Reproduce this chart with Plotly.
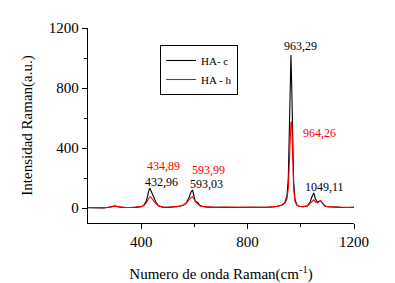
import plotly.graph_objects as go

wavenumber = [200, 220, 240, 260, 280, 300, 310, 320, 340, 360, 380, 400, 410, 420, 425, 430, 433, 437, 442, 448,
              455, 465, 480, 500, 520, 540, 560, 570, 580, 587, 593, 598, 603, 608, 613, 620, 630, 650, 680, 720,
              760, 800, 840, 880, 910, 930, 940, 948, 953, 957, 960, 963, 966, 969, 973, 978, 985, 995, 1010, 1025,
              1035, 1042, 1049, 1055, 1062, 1068, 1075, 1082, 1090, 1100, 1120, 1150, 1180, 1200]

ha_c = [2, 0, 3, 1, 5, 14, 10, 5, 3, 2, 4, 8, 18, 50, 90, 125, 130, 115, 85, 70,
        40, 15, 6, 4, 6, 10, 20, 35, 70, 105, 120, 80, 45, 42, 35, 18, 10, 6, 4, 5,
        3, 4, 3, 5, 10, 20, 35, 80, 200, 500, 850, 1020, 800, 450, 180, 60, 20, 10, 8, 15,
        40, 75, 100, 60, 40, 45, 48, 30, 15, 8, 5, 4, 3, 4]

ha_h = [3, 1, 4, 2, 6, 12, 9, 6, 4, 3, 5, 9, 16, 35, 55, 70, 75, 70, 58, 48,
        30, 14, 7, 5, 7, 11, 20, 32, 55, 70, 75, 60, 38, 32, 26, 15, 10, 7, 5, 6,
        4, 5, 4, 6, 11, 20, 32, 60, 130, 300, 480, 570, 575, 320, 130, 45, 18, 10, 9, 14,
        30, 45, 55, 42, 35, 42, 46, 30, 15, 9, 6, 5, 4, 5]

series_names = ["HA- c", "HA - h"]
series_colors = ["black", "red"]

peak_labels = ["963,29", "964,26", "434,89", "432,96", "593,99", "593,03", "1049,11"]
peak_label_x = [998, 1069, 483, 475, 653, 645, 1090]
peak_label_y = [1080, 500, 280, 173, 256, 162, 140]
peak_label_colors = ["black", "red", "red", "black", "red", "black", "black"]

font_family = "Liberation Serif"

fig = go.Figure()
for name, ys, col in zip(series_names, [ha_c, ha_h], series_colors):
    fig.add_trace(go.Scatter(x=wavenumber, y=ys, mode="lines", name=name,
                             line=dict(color=col, width=1.1)))

for t, x, y, c in zip(peak_labels, peak_label_x, peak_label_y, peak_label_colors):
    fig.add_annotation(x=x, y=y, text=t, showarrow=False, xref="x", yref="y",
                       font=dict(family=font_family, size=12, color=c))

axis_common = dict(showline=True, linecolor="black", linewidth=1.3, ticks="outside",
                   ticklen=5, tickwidth=1.3, tickcolor="black", showgrid=False, zeroline=False,
                   automargin=False,
                   tickfont=dict(family=font_family, size=15, color="black"),
                   minor=dict(ticks="outside", ticklen=3, tickwidth=1.3, tickcolor="black"))

fig.update_xaxes(range=[200, 1200], tickvals=[400, 800, 1200], **axis_common,
                 title=dict(text="Numero de onda Raman(cm<sup>-1</sup>)",
                            font=dict(family=font_family, size=15, color="black"), standoff=20))
fig.update_xaxes(minor_tickvals=[600, 1000])
fig.update_yaxes(range=[-100, 1200], tickvals=[0, 400, 800, 1200], **axis_common,
                 title=dict(text="Intensidad Raman(a.u.)",
                            font=dict(family=font_family, size=15, color="black"), standoff=12))
fig.update_yaxes(minor_tickvals=[200, 600, 1000])

# page body has an 8px margin, so the figure is sized/offset to compensate
fig.update_layout(
    width=387, height=275,
    margin=dict(l=80, r=41, t=20, b=60),
    paper_bgcolor="white", plot_bgcolor="white",
    showlegend=True,
    legend=dict(x=(160 - 88) / 266, y=1.0 - (45 - 28) / 195, xanchor="left", yanchor="top",
                xref="paper", yref="paper",
                bgcolor="white", bordercolor="black", borderwidth=1,
                font=dict(family=font_family, size=11, color="black"),
                tracegroupgap=0, itemwidth=30),
)

fig.write_html("out.html")
